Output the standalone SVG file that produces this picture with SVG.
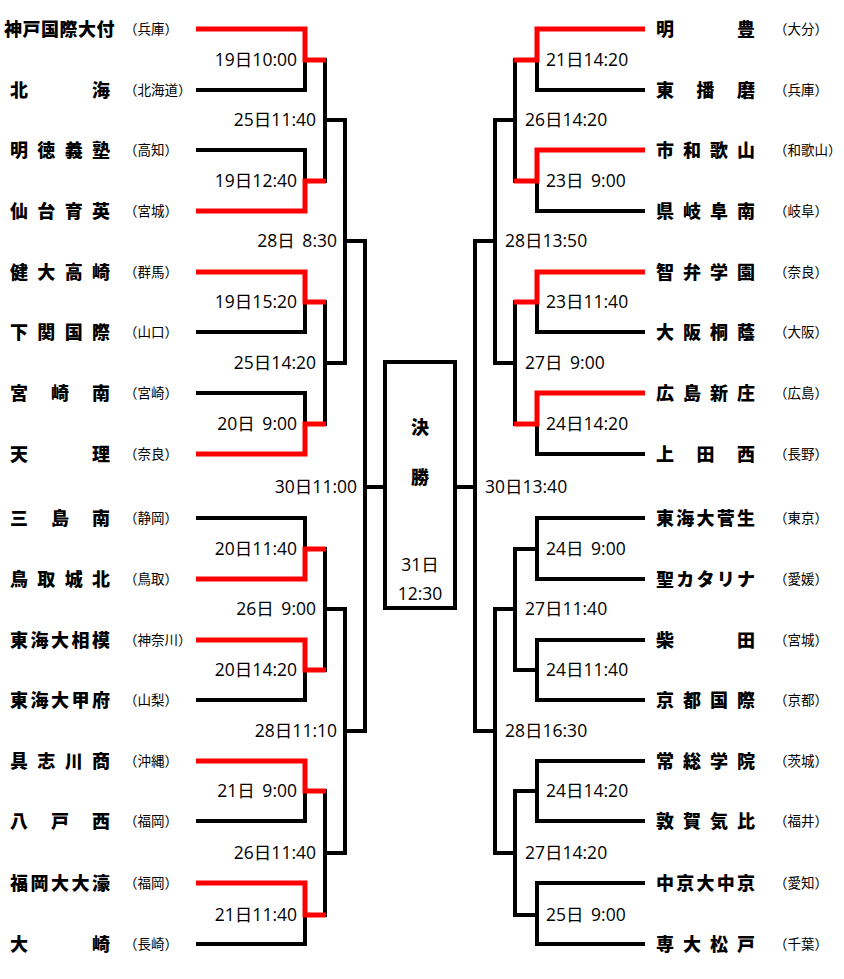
<svg xmlns="http://www.w3.org/2000/svg" width="844" height="979" viewBox="0 0 844 979">
<style>
.n{font-family:"Noto Sans CJK JP","Noto Sans CJK SC",sans-serif;font-size:18px;font-weight:900;fill:#000}
.p{font-family:"Noto Sans CJK JP","Noto Sans CJK SC",sans-serif;font-size:13.5px;fill:#000}
.d{font-family:"Open Sans","Noto Sans CJK JP",sans-serif;font-size:17.5px;fill:#000;word-spacing:3px}
.dl{text-anchor:end}
.k{fill:none;stroke:#000;stroke-width:4;stroke-linejoin:miter}
.r{fill:none;stroke:#f00;stroke-width:5;stroke-linejoin:miter}
.c{text-anchor:middle}
</style>
<rect width="844" height="979" fill="#fff"/>
<g id="connectors">
<path class="k" d="M196 29H305V90H196M196 150H305V211H196M196 272H305V332H196M196 393H305V454H196M196 518H305V579H196M196 640H305V700H196M196 761H305V821H196M196 883H305V944H196"/>
<path class="k" d="M305 60H325V181H305M305 302H325V424H305M305 549H325V670H305M305 791H325V915H305"/>
<path class="k" d="M325 120H345V363H325M325 609H345V853H325"/>
<path class="k" d="M345 241H365V731H345M365 487H385"/>
<path class="k" d="M645 29H537V90H645M645 150H537V211H645M645 272H537V332H645M645 393H537V454H645M645 518H537V579H645M645 640H537V700H645M645 761H537V821H645M645 883H537V944H645"/>
<path class="k" d="M537 60H515V181H537M537 302H515V424H537M537 549H515V670H537M537 791H515V915H537"/>
<path class="k" d="M515 120H495V363H515M515 609H495V853H515"/>
<path class="k" d="M495 241H475V731H495M475 487H455"/>
<path class="r" d="M196 29H305V60H326M196 211H305V181H326M196 272H305V302H326M196 454H305V424H326M196 579H305V549H326M196 640H305V670H326M196 761H305V791H326M196 883H305V915H326"/>
<path class="r" d="M645 29H537V60H514M645 150H537V181H514M645 272H537V302H514M645 393H537V424H514"/>
</g>
<g id="dates">
<text class="d dl" x="297" y="65.5">19日10:00</text>
<text class="d dl" x="297" y="186.5">19日12:40</text>
<text class="d dl" x="297" y="307.5">19日15:20</text>
<text class="d dl" x="297" y="429.5">20日 9:00</text>
<text class="d dl" x="297" y="554.5">20日11:40</text>
<text class="d dl" x="297" y="675.5">20日14:20</text>
<text class="d dl" x="297" y="796.5">21日 9:00</text>
<text class="d dl" x="297" y="920.5">21日11:40</text>
<text class="d dl" x="316" y="125.5">25日11:40</text>
<text class="d dl" x="316" y="368.5">25日14:20</text>
<text class="d dl" x="316" y="614.5">26日 9:00</text>
<text class="d dl" x="316" y="858.5">26日11:40</text>
<text class="d dl" x="337" y="246.5">28日 8:30</text>
<text class="d dl" x="337" y="736.5">28日11:10</text>
<text class="d dl" x="357" y="492.5">30日11:00</text>
<text class="d" x="546" y="65.5">21日14:20</text>
<text class="d" x="546" y="186.5">23日 9:00</text>
<text class="d" x="546" y="307.5">23日11:40</text>
<text class="d" x="546" y="429.5">24日14:20</text>
<text class="d" x="546" y="554.5">24日 9:00</text>
<text class="d" x="546" y="675.5">24日11:40</text>
<text class="d" x="546" y="796.5">24日14:20</text>
<text class="d" x="546" y="920.5">25日 9:00</text>
<text class="d" x="525" y="125.5">26日14:20</text>
<text class="d" x="525" y="368.5">27日 9:00</text>
<text class="d" x="525" y="614.5">27日11:40</text>
<text class="d" x="525" y="858.5">27日14:20</text>
<text class="d" x="505" y="246.5">28日13:50</text>
<text class="d" x="505" y="736.5">28日16:30</text>
<text class="d" x="485" y="492.5">30日13:40</text>
</g>
<g id="final">
<rect x="385" y="362" width="70" height="246" fill="#fff" stroke="#000" stroke-width="4"/>
<text class="n c" x="420" y="434">決</text>
<text class="n c" x="420" y="484">勝</text>
<text class="d c" x="420" y="571">31日</text>
<text class="d c" x="420" y="600">12:30</text>
</g>
<g id="L1"><text class="n" x="4 22.5 41 59.5 78 96.5" y="36">神戸国際大付</text><text class="p" x="124" y="34">（兵庫）</text></g>
<g id="L2"><text class="n" x="10 92" y="97">北海</text><text class="p" x="124" y="95">（北海道）</text></g>
<g id="L3"><text class="n" x="10 37.3 64.7 92" y="157">明徳義塾</text><text class="p" x="124" y="155">（高知）</text></g>
<g id="L4"><text class="n" x="10 37.3 64.7 92" y="218">仙台育英</text><text class="p" x="124" y="216">（宮城）</text></g>
<g id="L5"><text class="n" x="10 37.3 64.7 92" y="279">健大高崎</text><text class="p" x="124" y="277">（群馬）</text></g>
<g id="L6"><text class="n" x="10 37.3 64.7 92" y="339">下関国際</text><text class="p" x="124" y="337">（山口）</text></g>
<g id="L7"><text class="n" x="10 51 92" y="400">宮崎南</text><text class="p" x="124" y="398">（宮崎）</text></g>
<g id="L8"><text class="n" x="10 92" y="461">天理</text><text class="p" x="124" y="459">（奈良）</text></g>
<g id="L9"><text class="n" x="10 51 92" y="525">三島南</text><text class="p" x="124" y="523">（静岡）</text></g>
<g id="L10"><text class="n" x="10 37.3 64.7 92" y="586">鳥取城北</text><text class="p" x="124" y="584">（鳥取）</text></g>
<g id="L11"><text class="n" x="10 30.5 51 71.5 92" y="647">東海大相模</text><text class="p" x="124" y="645">（神奈川）</text></g>
<g id="L12"><text class="n" x="10 30.5 51 71.5 92" y="707">東海大甲府</text><text class="p" x="124" y="705">（山梨）</text></g>
<g id="L13"><text class="n" x="10 37.3 64.7 92" y="768">具志川商</text><text class="p" x="124" y="766">（沖縄）</text></g>
<g id="L14"><text class="n" x="10 51 92" y="828">八戸西</text><text class="p" x="124" y="826">（福岡）</text></g>
<g id="L15"><text class="n" x="10 30.5 51 71.5 92" y="890">福岡大大濠</text><text class="p" x="124" y="888">（福岡）</text></g>
<g id="L16"><text class="n" x="10 92" y="951">大崎</text><text class="p" x="124" y="949">（長崎）</text></g>
<g id="R1"><text class="n" x="656 737" y="36">明豊</text><text class="p" x="774" y="34">（大分）</text></g>
<g id="R2"><text class="n" x="656 696.5 737" y="97">東播磨</text><text class="p" x="774" y="95">（兵庫）</text></g>
<g id="R3"><text class="n" x="656 683 710 737" y="157">市和歌山</text><text class="p" x="774" y="155">（和歌山）</text></g>
<g id="R4"><text class="n" x="656 683 710 737" y="218">県岐阜南</text><text class="p" x="774" y="216">（岐阜）</text></g>
<g id="R5"><text class="n" x="656 683 710 737" y="279">智弁学園</text><text class="p" x="774" y="277">（奈良）</text></g>
<g id="R6"><text class="n" x="656 683 710 737" y="339">大阪桐蔭</text><text class="p" x="774" y="337">（大阪）</text></g>
<g id="R7"><text class="n" x="656 683 710 737" y="400">広島新庄</text><text class="p" x="774" y="398">（広島）</text></g>
<g id="R8"><text class="n" x="656 696.5 737" y="461">上田西</text><text class="p" x="774" y="459">（長野）</text></g>
<g id="R9"><text class="n" x="656 676.3 696.5 716.8 737" y="525">東海大菅生</text><text class="p" x="774" y="523">（東京）</text></g>
<g id="R10"><text class="n" x="656 676.3 696.5 716.8 737" y="586">聖カタリナ</text><text class="p" x="774" y="584">（愛媛）</text></g>
<g id="R11"><text class="n" x="656 737" y="647">柴田</text><text class="p" x="774" y="645">（宮城）</text></g>
<g id="R12"><text class="n" x="656 683 710 737" y="707">京都国際</text><text class="p" x="774" y="705">（京都）</text></g>
<g id="R13"><text class="n" x="656 683 710 737" y="768">常総学院</text><text class="p" x="774" y="766">（茨城）</text></g>
<g id="R14"><text class="n" x="656 683 710 737" y="828">敦賀気比</text><text class="p" x="774" y="826">（福井）</text></g>
<g id="R15"><text class="n" x="656 676.3 696.5 716.8 737" y="890">中京大中京</text><text class="p" x="774" y="888">（愛知）</text></g>
<g id="R16"><text class="n" x="656 683 710 737" y="951">専大松戸</text><text class="p" x="774" y="949">（千葉）</text></g>
</svg>
